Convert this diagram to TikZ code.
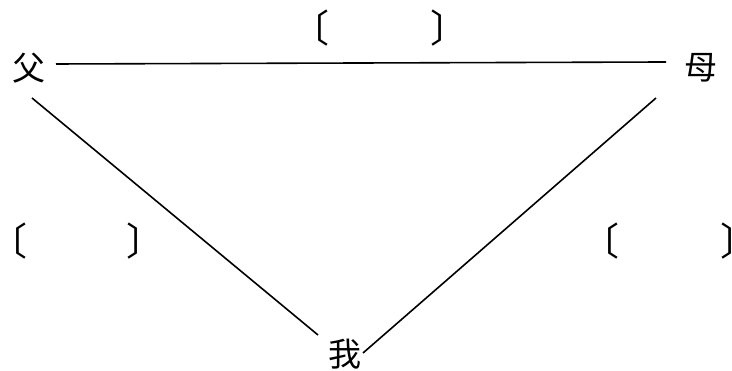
\documentclass[tikz,border=0pt]{standalone}
\usepackage{fontspec}
\newfontfamily\cjk{Noto Sans CJK SC}
\newcommand{\obrk}{\kern-0.64em〔}
\newcommand{\cbrk}{〕\kern-0.75em}
\begin{document}
\begin{tikzpicture}[x=1pt,y=1pt,
  han/.style={inner sep=0pt, font=\cjk\fontsize{33}{33}\selectfont},
  brk/.style={inner sep=0pt, font=\cjk\fontsize{38}{38}\selectfont},
  edge/.style={line width=1.6pt}]
\useasboundingbox (0,0) rectangle (732,371);
\node[han] (fu) at (29,303) {父};
\node[han] (mu) at (701,303) {母};
\node[han] (wo) at (345,17) {我};
\coordinate (fuR) at (56,307);
\coordinate (muL) at (666,309);
\coordinate (fuB) at (32,273);
\coordinate (woL) at (318,36);
\coordinate (muB) at (656,273);
\coordinate (woR) at (363,18);
\draw[edge] (fuR) -- (muL);
\draw[edge] (fuB) -- (woL);
\draw[edge] (muB) -- (woR);
\node[brk] (t1) at (322.5,343) {\obrk};
\node[brk] (t2) at (435.2,343) {\cbrk};
\node[brk] (l1) at (20.5,130) {\obrk};
\node[brk] (l2) at (131.7,130) {\cbrk};
\node[brk] (r1) at (612.5,130) {\obrk};
\node[brk] (r2) at (725.2,130) {\cbrk};
\end{tikzpicture}
\end{document}
